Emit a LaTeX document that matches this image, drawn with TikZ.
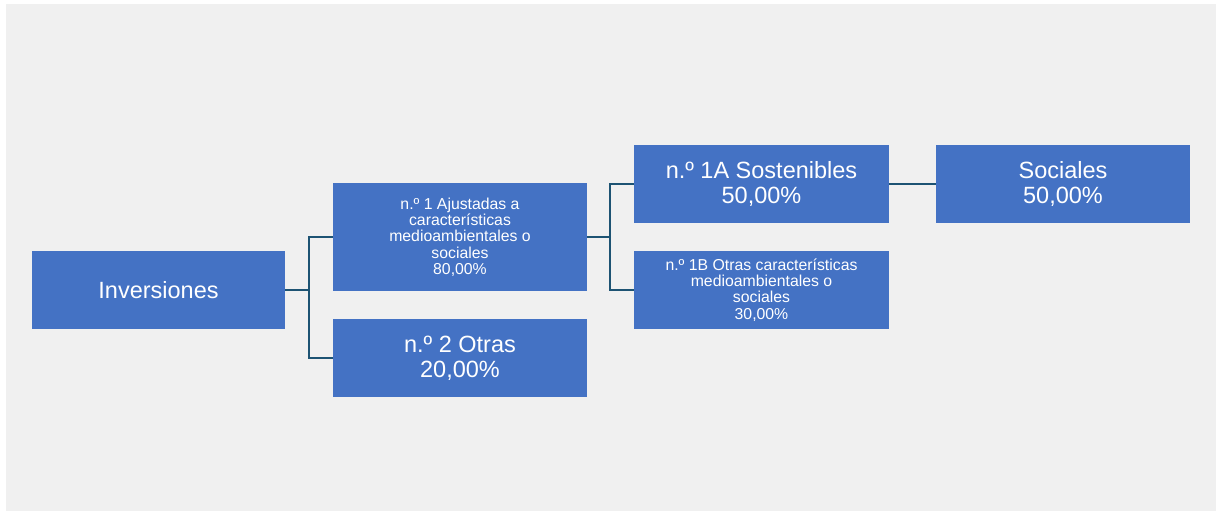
\documentclass[tikz,border=0pt]{standalone}
\usepackage{fontspec}
\setmainfont{Liberation Sans}
\definecolor{boxblue}{HTML}{4472C4}
\definecolor{linec}{HTML}{1D5373}
\definecolor{bg}{HTML}{F0F0F0}
\tikzset{
  box/.style={fill=boxblue, draw=none, text=white, align=center, inner sep=0pt},
  big/.style={font=\fontsize{23.5}{25}\selectfont},
  small/.style={font=\fontsize{15.8}{16.3}\selectfont},
  conn/.style={draw=linec, line width=2.6pt}
}
\begin{document}
\begin{tikzpicture}[x=1pt,y=-1pt]
\useasboundingbox (0,0) rectangle (1221,513);
\fill[white] (0,0) rectangle (1221,513);
\fill[bg] (6,4) rectangle (1216,511);
% boxes
\node[box,big,minimum width=253pt,minimum height=78pt] (inv) at (158.5,290) {Inversiones};
\node[box,small,minimum width=254pt,minimum height=108pt] (n1) at (460,237) {n.º 1 Ajustadas a\\características\\medioambientales o\\sociales\\80,00\%};
\node[box,big,minimum width=254pt,minimum height=78pt] (n2) at (460,358) {n.º 2 Otras\\20,00\%};
\node[box,big,minimum width=255pt,minimum height=78pt] (n1a) at (761.5,184) {n.º 1A Sostenibles\\50,00\%};
\node[box,small,minimum width=255pt,minimum height=78pt] (n1b) at (761.5,290) {n.º 1B Otras características\\medioambientales o\\sociales\\30,00\%};
\node[box,big,minimum width=254pt,minimum height=78pt] (soc) at (1063,184) {Sociales\\50,00\%};
% connectors
\coordinate (j1) at (309,290);
\coordinate (j2) at (610,237);
\draw[conn] (inv.east) -- (j1);
\draw[conn] (n1.west) -| (j1) |- (n2.west);
\draw[conn] (n1.east) -- (j2);
\draw[conn] (n1a.west) -| (j2) |- (n1b.west);
\draw[conn] (n1a.east) -- (soc.west);
\end{tikzpicture}
\end{document}
